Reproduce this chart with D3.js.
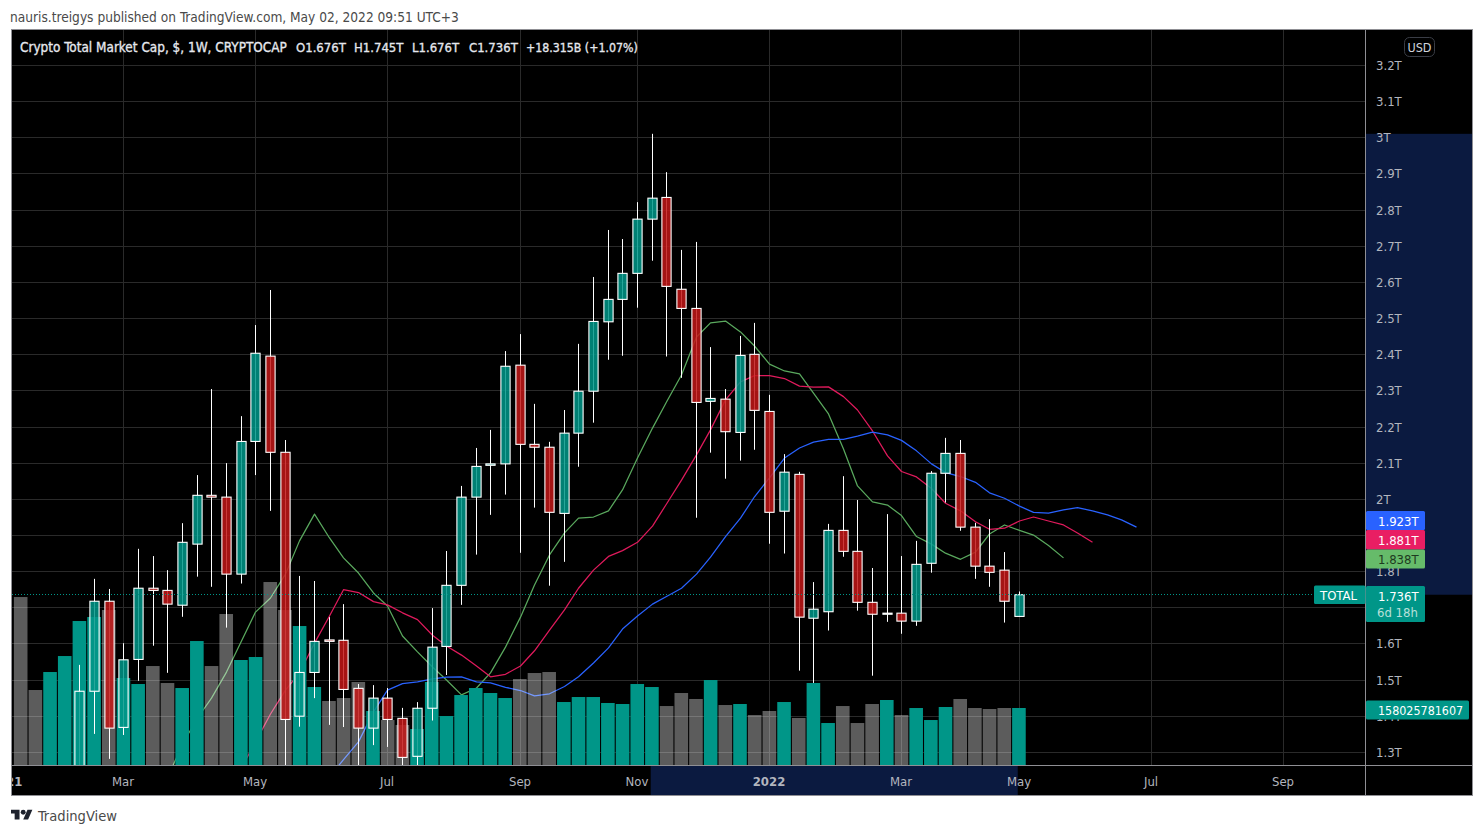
<!DOCTYPE html>
<html><head><meta charset="utf-8">
<script src="https://cdn.jsdelivr.net/npm/d3@7"></script>
<style>
html,body{margin:0;padding:0;background:#fff;overflow:hidden}
svg{display:block}
text{font-family:"DejaVu Sans";font-stretch:condensed}
</style></head><body>
<svg id="c" width="1484" height="835"></svg>
<script>
// weekly candles, starting the week of 2021-01-11 (values in trillions of USD)
const firstWeek = "2021-01-11";
const opens = [1.08,0.99,0.98,1.07,1.168,1.469,1.718,1.369,1.557,1.754,1.748,1.707,1.876,2.011,2.006,1.793,2.160,2.396,2.130,1.400,1.521,1.611,1.610,1.477,1.367,1.450,1.394,1.289,1.422,1.593,1.762,2.006,2.094,2.098,2.371,2.152,2.144,1.961,2.183,2.299,2.491,2.553,2.625,2.775,2.835,2.581,2.528,2.271,2.277,2.185,2.401,2.243,1.967,2.069,1.671,1.689,1.914,1.856,1.715,1.682,1.685,1.663,1.823,2.072,2.127,1.923,1.815,1.804,1.676];
const highs = [1.17,1.07,1.12,1.20,1.542,1.780,1.752,1.602,1.863,1.843,1.804,1.934,2.067,2.305,2.100,2.230,2.482,2.579,2.164,1.788,1.774,1.674,1.710,1.489,1.486,1.478,1.423,1.439,1.699,1.857,2.037,2.142,2.192,2.410,2.457,2.264,2.159,2.247,2.430,2.615,2.745,2.720,2.822,3.011,2.905,2.690,2.712,2.421,2.305,2.452,2.488,2.289,2.125,2.076,1.771,1.932,2.064,1.998,1.810,1.959,1.843,1.885,2.078,2.170,2.164,1.935,1.945,1.854,1.745];
const lows = [0.93,0.90,0.93,1.05,1.163,1.351,1.282,1.348,1.498,1.595,1.520,1.675,1.786,1.758,1.645,1.767,2.067,1.968,1.237,1.371,1.450,1.376,1.370,1.251,1.320,1.315,1.246,1.246,1.388,1.514,1.708,1.847,1.957,2.013,1.852,1.977,1.761,1.827,2.090,2.212,2.386,2.397,2.530,2.660,2.395,2.336,1.949,2.129,2.057,2.107,2.137,1.877,1.850,1.526,1.492,1.637,1.841,1.692,1.512,1.661,1.628,1.650,1.797,1.991,1.913,1.780,1.758,1.659,1.676];
const closes = [0.99,0.98,1.07,1.17,1.469,1.718,1.367,1.556,1.754,1.748,1.710,1.881,2.011,2.006,1.793,2.160,2.404,2.130,1.391,1.521,1.607,1.607,1.474,1.367,1.450,1.391,1.286,1.422,1.591,1.762,2.006,2.091,2.098,2.368,2.152,2.144,1.964,2.183,2.299,2.492,2.553,2.625,2.775,2.833,2.589,2.528,2.268,2.279,2.187,2.398,2.246,1.964,2.075,1.674,1.696,1.914,1.856,1.715,1.682,1.685,1.663,1.820,2.072,2.127,1.923,1.815,1.798,1.718,1.736];
// weekly volume, billions of USD
const volumes = [465.7,207.9,257.8,302.1,399.2,410.3,429.7,241.2,224.5,274.4,227.3,213.4,343.7,274.4,418.6,291.1,299.4,507.3,429.7,385.3,216.2,177.4,185.7,230.1,149.7,124.7,110.9,99.8,230.1,135.8,194.0,213.4,199.6,185.7,238.4,255.0,257.8,174.6,188.5,188.5,171.9,169.1,224.5,216.2,163.5,199.6,183.0,235.6,166.3,169.1,138.6,149.7,174.6,130.3,227.3,116.4,163.5,116.4,169.1,180.2,138.6,158.0,124.7,160.8,183.0,158.0,155.2,158.0,158.03];
// moving averages (first value sits at the given week index, counted from firstWeek)
const greenStart = 10;
const greenMA = [1.229,1.323,1.395,1.450,1.522,1.608,1.688,1.727,1.793,1.885,1.959,1.893,1.838,1.796,1.741,1.705,1.622,1.578,1.536,1.500,1.459,1.478,1.520,1.591,1.674,1.763,1.846,1.907,1.948,1.951,1.968,2.026,2.114,2.197,2.269,2.344,2.449,2.488,2.493,2.463,2.424,2.374,2.355,2.347,2.294,2.236,2.139,2.037,1.993,1.984,1.955,1.897,1.876,1.851,1.834,1.854,1.904,1.929,1.914,1.901,1.872,1.838];
const redStart = 15;
const redMA = [1.257,1.329,1.406,1.472,1.520,1.602,1.677,1.750,1.742,1.717,1.708,1.686,1.667,1.624,1.594,1.569,1.539,1.509,1.516,1.539,1.581,1.638,1.694,1.754,1.804,1.842,1.858,1.881,1.926,1.987,2.053,2.123,2.192,2.275,2.325,2.342,2.342,2.334,2.313,2.310,2.311,2.284,2.247,2.189,2.120,2.077,2.062,2.030,1.989,1.968,1.938,1.917,1.920,1.940,1.951,1.940,1.929,1.907,1.881];
const blueStart = 21;
const blueMA = [1.232,1.280,1.329,1.412,1.472,1.490,1.495,1.503,1.508,1.509,1.495,1.492,1.480,1.471,1.456,1.462,1.482,1.509,1.547,1.589,1.641,1.677,1.710,1.731,1.754,1.793,1.840,1.897,1.948,2.007,2.059,2.114,2.142,2.158,2.166,2.166,2.175,2.186,2.178,2.163,2.134,2.098,2.074,2.063,2.047,2.018,2.003,1.981,1.964,1.962,1.971,1.977,1.968,1.957,1.943,1.923];
// axes
const priceTicks = [3.2,3.1,3.0,2.9,2.8,2.7,2.6,2.5,2.4,2.3,2.2,2.1,2.0,1.9,1.8,1.7,1.6,1.5,1.4,1.3];
const hiddenPriceLabels = [1.9,1.7];  // sit fully under the value tags in the picture
const timeTickDates = ["2021-01-04","2021-03-01","2021-05-03","2021-07-05","2021-09-06","2021-11-01","2022-01-03","2022-03-07","2022-05-02","2022-07-04","2022-09-05"];
const timeTickLabels = ["2021","Mar","May","Jul","Sep","Nov","2022","Mar","May","Jul","Sep"];
const selectedWeekFrom = 43;   // highlighted range on the axes
const lastVolumeText = "158025781607";
const countdownText = "6d 18h";
const publishedText = "nauris.treigys published on TradingView.com, May 02, 2022 09:51 UTC+3";
const titleText = "Crypto Total Market Cap, $, 1W, CRYPTOCAP";
const ohlcText = ["O1.676T","H1.745T","L1.676T","C1.736T","+18.315B (+1.07%)"];

const L=12,R=1365,T=30,B=765,RR=1472,BB=795;
const TEAL="#009688", GRID="#2a2a2a", NAVY="#0b1a40", AXTXT="#b2b5be", BORDER="#8f8f94";
const parse=d3.utcParse("%Y-%m-%d");
const week0=parse(firstWeek);
const weekDate=i=>d3.utcMonday.offset(week0,i);
const x=d3.scaleUtc().domain([parse("2021-03-01"),parse("2022-05-02")]).range([123.75,1019.23]);
const px=d=>Math.floor(x(d))+0.5;
const y=d3.scaleLinear().domain([2,3.2]).range([499.3,65.5]);
const py=v=>Math.floor(y(v))+0.5;
const yVol=d3.scaleLinear().domain([0,volumes[volumes.length-1]]).range([B,708]);

const svg=d3.select("#c");
const defs=svg.append("defs");
defs.append("clipPath").attr("id","pane").append("rect").attr("x",L).attr("y",T).attr("width",R-L).attr("height",B-T);
defs.append("clipPath").attr("id","xaxis").append("rect").attr("x",L).attr("y",B).attr("width",R-L).attr("height",BB-B);

svg.append("text").attr("x",10).attr("y",22).attr("font-size",13.6).attr("fill","#4a4a4a").text(publishedText);

svg.append("rect").attr("x",L).attr("y",T).attr("width",RR-L).attr("height",BB-T).attr("fill","#000");

// highlighted ranges on the axes
const last=closes.length-1;
const maxHigh=d3.max(highs);
svg.append("rect").attr("x",R).attr("y",y(maxHigh)).attr("width",RR-R).attr("height",y(closes[last])-y(maxHigh)).attr("fill",NAVY);
svg.append("rect").attr("x",x(weekDate(selectedWeekFrom))-1.5).attr("y",B).attr("width",x(weekDate(last))-x(weekDate(selectedWeekFrom))).attr("height",BB-B).attr("fill",NAVY);

const pane=svg.append("g").attr("clip-path","url(#pane)");
// grid
pane.append("g").selectAll("line").data(priceTicks).join("line")
 .attr("x1",L).attr("x2",R).attr("y1",py).attr("y2",py).attr("stroke",GRID);
pane.append("g").selectAll("line").data(timeTickDates).join("line")
 .attr("x1",d=>px(parse(d))).attr("x2",d=>px(parse(d))).attr("y1",T).attr("y2",B).attr("stroke",GRID);

// moving averages
const maLine=start=>d3.line().x((d,i)=>px(weekDate(start+i))).y(d=>y(d));
[[greenMA,greenStart,"#5aa95e"],[redMA,redStart,"#e01a5c"],[blueMA,blueStart,"#2962ff"]].forEach(([a,s,c])=>{
  pane.append("path").attr("d",maLine(s)(a)).attr("fill","none").attr("stroke",c).attr("stroke-width",1.25).attr("stroke-linejoin","round");
});

// volume
pane.append("g").selectAll("rect").data(volumes).join("rect")
 .attr("x",(d,i)=>x(weekDate(i))-7.1).attr("width",13.6)
 .attr("y",d=>yVol(d)).attr("height",d=>B-yVol(d))
 .attr("fill",(d,i)=>closes[i]>=opens[i]?TEAL:"rgba(255,255,255,0.36)");

// candles
const idx=d3.range(opens.length);
const candle=pane.append("g");
candle.selectAll("line").data(idx).join("line")
 .attr("x1",i=>px(weekDate(i))).attr("x2",i=>px(weekDate(i)))
 .attr("y1",i=>y(highs[i])).attr("y2",i=>y(lows[i]))
 .attr("stroke","#fff").attr("stroke-width",1);
candle.selectAll("rect").data(idx).join("rect")
 .attr("x",i=>px(weekDate(i))-4.6).attr("width",9.2)
 .attr("y",i=>y(Math.max(opens[i],closes[i])))
 .attr("height",i=>Math.abs(y(opens[i])-y(closes[i])))
 .attr("fill",i=>closes[i]>=opens[i]?"rgba(0,150,136,0.85)":"rgba(194,24,24,0.85)")
 .attr("stroke","#fff").attr("stroke-width",1.1);

// last price line
pane.append("line").attr("x1",L).attr("x2",R).attr("y1",py(closes[last])).attr("y2",py(closes[last]))
 .attr("stroke",TEAL).attr("stroke-dasharray","1 2");

// legend
const hdr=svg.append("g").attr("fill","#e6e8ee").attr("stroke","#e6e8ee").attr("stroke-width",0.3);
hdr.append("text").attr("x",20).attr("y",52).attr("font-size",13.45).text(titleText);
[296,354,412,469,526].forEach((xx,i)=>hdr.append("text").attr("x",xx).attr("y",52).attr("font-size",i===4?12.25:13).text(ohlcText[i]));

// frame
svg.append("rect").attr("x",L-.5).attr("y",T-.5).attr("width",RR-L+1).attr("height",BB-T+1).attr("fill","none").attr("stroke",BORDER);
svg.append("line").attr("x1",R+.5).attr("x2",R+.5).attr("y1",T).attr("y2",BB).attr("stroke",BORDER);
svg.append("line").attr("x1",L).attr("x2",RR).attr("y1",B+.5).attr("y2",B+.5).attr("stroke",BORDER);

// price axis
svg.append("g").selectAll("text").data(priceTicks.filter(d=>!hiddenPriceLabels.includes(d))).join("text")
 .attr("x",1376).attr("y",d=>y(d)+4.5).attr("font-size",13).attr("fill",AXTXT)
 .text(d=>(Number.isInteger(d)?d3.format("d")(d):d3.format(".1f")(d))+"T");

// time axis
svg.append("g").attr("clip-path","url(#xaxis)").selectAll("text").data(timeTickDates).join("text")
 .attr("x",d=>px(parse(d))-0.5).attr("y",786).attr("text-anchor","middle").attr("font-size",13)
 .attr("font-weight",(d,i)=>timeTickLabels[i]==="2022"||timeTickLabels[i]==="2021"?"bold":"normal")
 .attr("fill",AXTXT).text((d,i)=>timeTickLabels[i]);

// USD button
svg.append("rect").attr("x",1404.5).attr("y",37.5).attr("width",30).attr("height",19).attr("rx",5).attr("fill","#000").attr("stroke","#3a3d46");
svg.append("text").attr("x",1419.5).attr("y",51.5).attr("text-anchor","middle").attr("font-size",12.5).attr("fill","#d1d4dc").text("USD");

// price labels
const fmtT=v=>d3.format(".3f")(v)+"T";
function tag(x0,y0,w,h,fill,r){svg.append("rect").attr("x",x0).attr("y",y0).attr("width",w).attr("height",h).attr("rx",r||1.5).attr("fill",fill);}
function tagText(x0,yb,s,fill,fs){svg.append("text").attr("x",x0).attr("y",yb).attr("font-size",fs||13).attr("fill",fill).text(s);}
tag(1366,511,59,19,"#2962ff"); tagText(1378,525.5,fmtT(blueMA[blueMA.length-1]),"#fff");
tag(1366,530,59,19.5,"#e91e63"); tagText(1378,544.5,fmtT(redMA[redMA.length-1]),"#fff");
tag(1366,549.5,59,19,"#66bb6a"); tagText(1378,564,fmtT(greenMA[greenMA.length-1]),"#1e3a20");
tag(1314,585.5,51.5,18.5,TEAL);
svg.append("text").attr("x",1320).attr("y",600).attr("font-size",13).attr("fill","#fff").text("TOTAL");
tag(1366,586,59,36,TEAL); tagText(1378,601,fmtT(closes[last]),"#fff"); tagText(1377,617,countdownText,"#b8e0da");
tag(1366,700.5,103,19,TEAL); tagText(1378,715,lastVolumeText,"#fff",12.4);

// footer
const logo=svg.append("g").attr("transform","translate(11,806.2) scale(0.61)").attr("fill","#1e222d");
logo.append("path").attr("d","M14 6H0v6h6v10h8V6z");
logo.append("circle").attr("cx",20).attr("cy",10).attr("r",4);
logo.append("path").attr("d","M28 22h-8l7-16h8l-7 16z");
svg.append("text").attr("x",38).attr("y",821).attr("font-size",14.6).attr("fill","#4a4a4a").text("TradingView");
</script></body></html>
